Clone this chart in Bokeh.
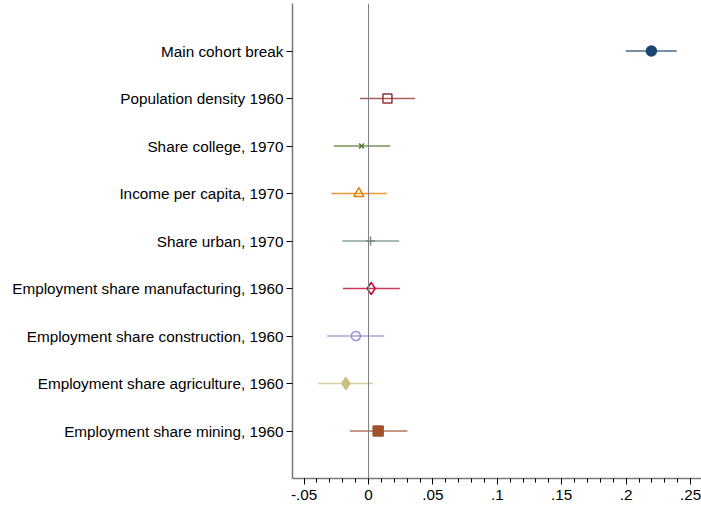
from bokeh.plotting import figure
from bokeh.models import ColumnDataSource, FixedTicker, Span, Range1d
from bokeh.embed import file_html
from bokeh.resources import INLINE

# ---- data (top to bottom) ----
labels = ["Main cohort break", "Population density 1960", "Share college, 1970",
          "Income per capita, 1970", "Share urban, 1970",
          "Employment share manufacturing, 1960", "Employment share construction, 1960",
          "Employment share agriculture, 1960", "Employment share mining, 1960"]
coef = [0.2196, 0.0147, -0.0054, -0.0075, 0.0016, 0.0021, -0.0098, -0.0176, 0.0075]
ci_low = [0.1997, -0.0067, -0.0269, -0.0289, -0.0204, -0.0199, -0.0320, -0.0390, -0.0145]
ci_high = [0.2393, 0.0362, 0.0168, 0.0142, 0.0238, 0.0243, 0.0121, 0.0033, 0.0302]
x_ticks = [-0.05, 0, 0.05, 0.1, 0.15, 0.2, 0.25]
x_tick_labels = ["-.05", "0", ".05", ".1", ".15", ".2", ".25"]

# ---- styles ----
colors = ["#1a476f", "#90353b", "#55752f", "#e37e00", "#6e8e84",
          "#c10534", "#938dd2", "#cac27e", "#a0522d"]
markers = ["circle", "square", "x", "triangle", "cross", "diamond", "circle", "diamond", "square"]
filled = [True, False, False, False, False, False, False, True, True]
sizes = [10, 9, 7, 10, 9, 12, 9, 12, 10]

n = len(labels)
ypos = [n - i for i in range(n)]

p = figure(width=701, height=508, output_backend="svg", toolbar_location=None,
           x_range=Range1d(-0.059, 0.2585), y_range=Range1d(0, 10),
           min_border_left=292, min_border_right=0, min_border_top=3, min_border_bottom=30)
p.outline_line_color = None
p.xgrid.visible = False
p.ygrid.visible = False
p.background_fill_color = "white"
p.border_fill_color = "white"

p.add_layout(Span(location=0, dimension="height", line_color="#808080", line_width=1))

src = ColumnDataSource(dict(y=ypos, coef=coef, lo=ci_low, hi=ci_high, color=colors,
                            marker=markers, size=sizes,
                            fill=[c if f else "white" for c, f in zip(colors, filled)],
                            falpha=[1.0 if f else 0.0 for f in filled]))
p.segment(x0="lo", x1="hi", y0="y", y1="y", line_color="color", line_width=1.6,
          line_alpha=0.8, source=src)
p.scatter(x="coef", y="y", marker="marker", size="size", line_color="color",
          fill_color="fill", fill_alpha="falpha", line_width=1.5, source=src)

# y axis
p.yaxis.ticker = FixedTicker(ticks=ypos)
p.yaxis.major_label_overrides = {y: l for y, l in zip(ypos, labels)}
p.yaxis.minor_tick_line_color = None
p.yaxis.major_tick_in = 0
p.yaxis.major_tick_out = 6
p.yaxis.major_tick_line_color = "black"
p.yaxis.axis_line_color = "#777777"
p.yaxis.axis_line_width = 1.5
p.yaxis.major_label_text_font = "Liberation Sans"
p.yaxis.major_label_text_font_size = "15.3px"
p.yaxis.major_label_text_color = "black"
p.yaxis.major_label_standoff = 3

# x axis
minor = [round(-0.06 + 0.01 * i, 2) for i in range(32)]
p.xaxis.ticker = FixedTicker(ticks=x_ticks, minor_ticks=minor)
p.xaxis.major_label_overrides = {t: l for t, l in zip(x_ticks, x_tick_labels)}
p.xaxis.major_tick_in = 0
p.xaxis.major_tick_out = 6
p.xaxis.minor_tick_in = 0
p.xaxis.minor_tick_out = 4
p.xaxis.major_tick_line_color = "black"
p.xaxis.minor_tick_line_color = "black"
p.xaxis.axis_line_color = "#777777"
p.xaxis.axis_line_width = 1.5
p.xaxis.major_label_text_font = "Liberation Sans"
p.xaxis.major_label_text_font_size = "15.3px"
p.xaxis.major_label_text_color = "black"
p.xaxis.major_label_standoff = 5

open("out.html", "w").write(file_html(p, INLINE))
